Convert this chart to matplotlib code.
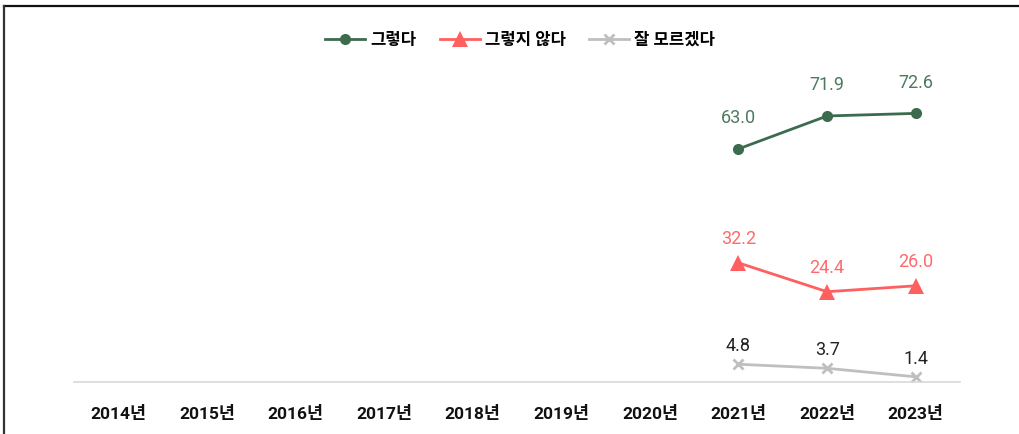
import matplotlib.pyplot as plt
from matplotlib.lines import Line2D
import numpy as np

plt.rcParams["font.family"] = ["Roboto", "Noto Sans CJK KR", "DejaVu Sans"]

years = ["2014년", "2015년", "2016년", "2017년", "2018년",
         "2019년", "2020년", "2021년", "2022년", "2023년"]
nan = np.nan
yes = [nan, nan, nan, nan, nan, nan, nan, 63.0, 71.9, 72.6]
no = [nan, nan, nan, nan, nan, nan, nan, 32.2, 24.4, 26.0]
unsure = [nan, nan, nan, nan, nan, nan, nan, 4.8, 3.7, 1.4]

series = [
    ("그렇다", yes, "#3c6b4e", "#4d7a5e", "o", 8, 22),
    ("그렇지 않다", no, "#ff5f5f", "#ff6a6a", "^", 11, 17),
    ("잘 모르겠다", unsure, "#bfbfbf", "#222222", "x", 7, 13),
]

fig = plt.figure(figsize=(10.2, 4.34), dpi=100)
ax = fig.add_axes([74 / 1020, 52 / 434, 886 / 1020, 370 / 434])

x = np.arange(len(years))
for name, vals, color, label_color, marker, ms, offset in series:
    ax.plot(x, vals, color=color, marker=marker, markersize=ms, linewidth=2,
            markeredgewidth=2 if marker == "x" else 0, label=name)
    for xi, v in zip(x, vals):
        if np.isnan(v):
            continue
        ax.annotate(f"{v:.1f}", (xi, v), xytext=(0, offset), textcoords="offset points",
                    ha="center", va="center", fontsize=13, color=label_color)

ax.set_xlim(-0.5, len(years) - 0.5)
ax.set_ylim(0, 100)
ax.set_xticks(x)
ax.set_xticklabels(years, fontsize=12.5, fontweight="bold", color="#111111")
ax.set_yticks([])
for side in ["top", "right", "left"]:
    ax.spines[side].set_visible(False)
ax.spines["bottom"].set_color("#d9d9d9")
ax.spines["bottom"].set_linewidth(1.2)
ax.tick_params(axis="x", length=0, pad=17)

leg = ax.legend(loc="upper center", bbox_to_anchor=(446 / 886, 0.985), ncol=3, frameon=False,
                prop={"weight": "bold", "size": 12}, handlelength=2.4, columnspacing=1.4,
                handletextpad=0.3)

# frame lines on top and left
fig.add_artist(Line2D([4.5 / 1020, 1], [1 - 5.5 / 434] * 2, color="#111111", linewidth=1.6))
fig.add_artist(Line2D([4.5 / 1020] * 2, [0, 1 - 5.5 / 434], color="#333333", linewidth=1.6))

fig.savefig("out.png", dpi=100)
